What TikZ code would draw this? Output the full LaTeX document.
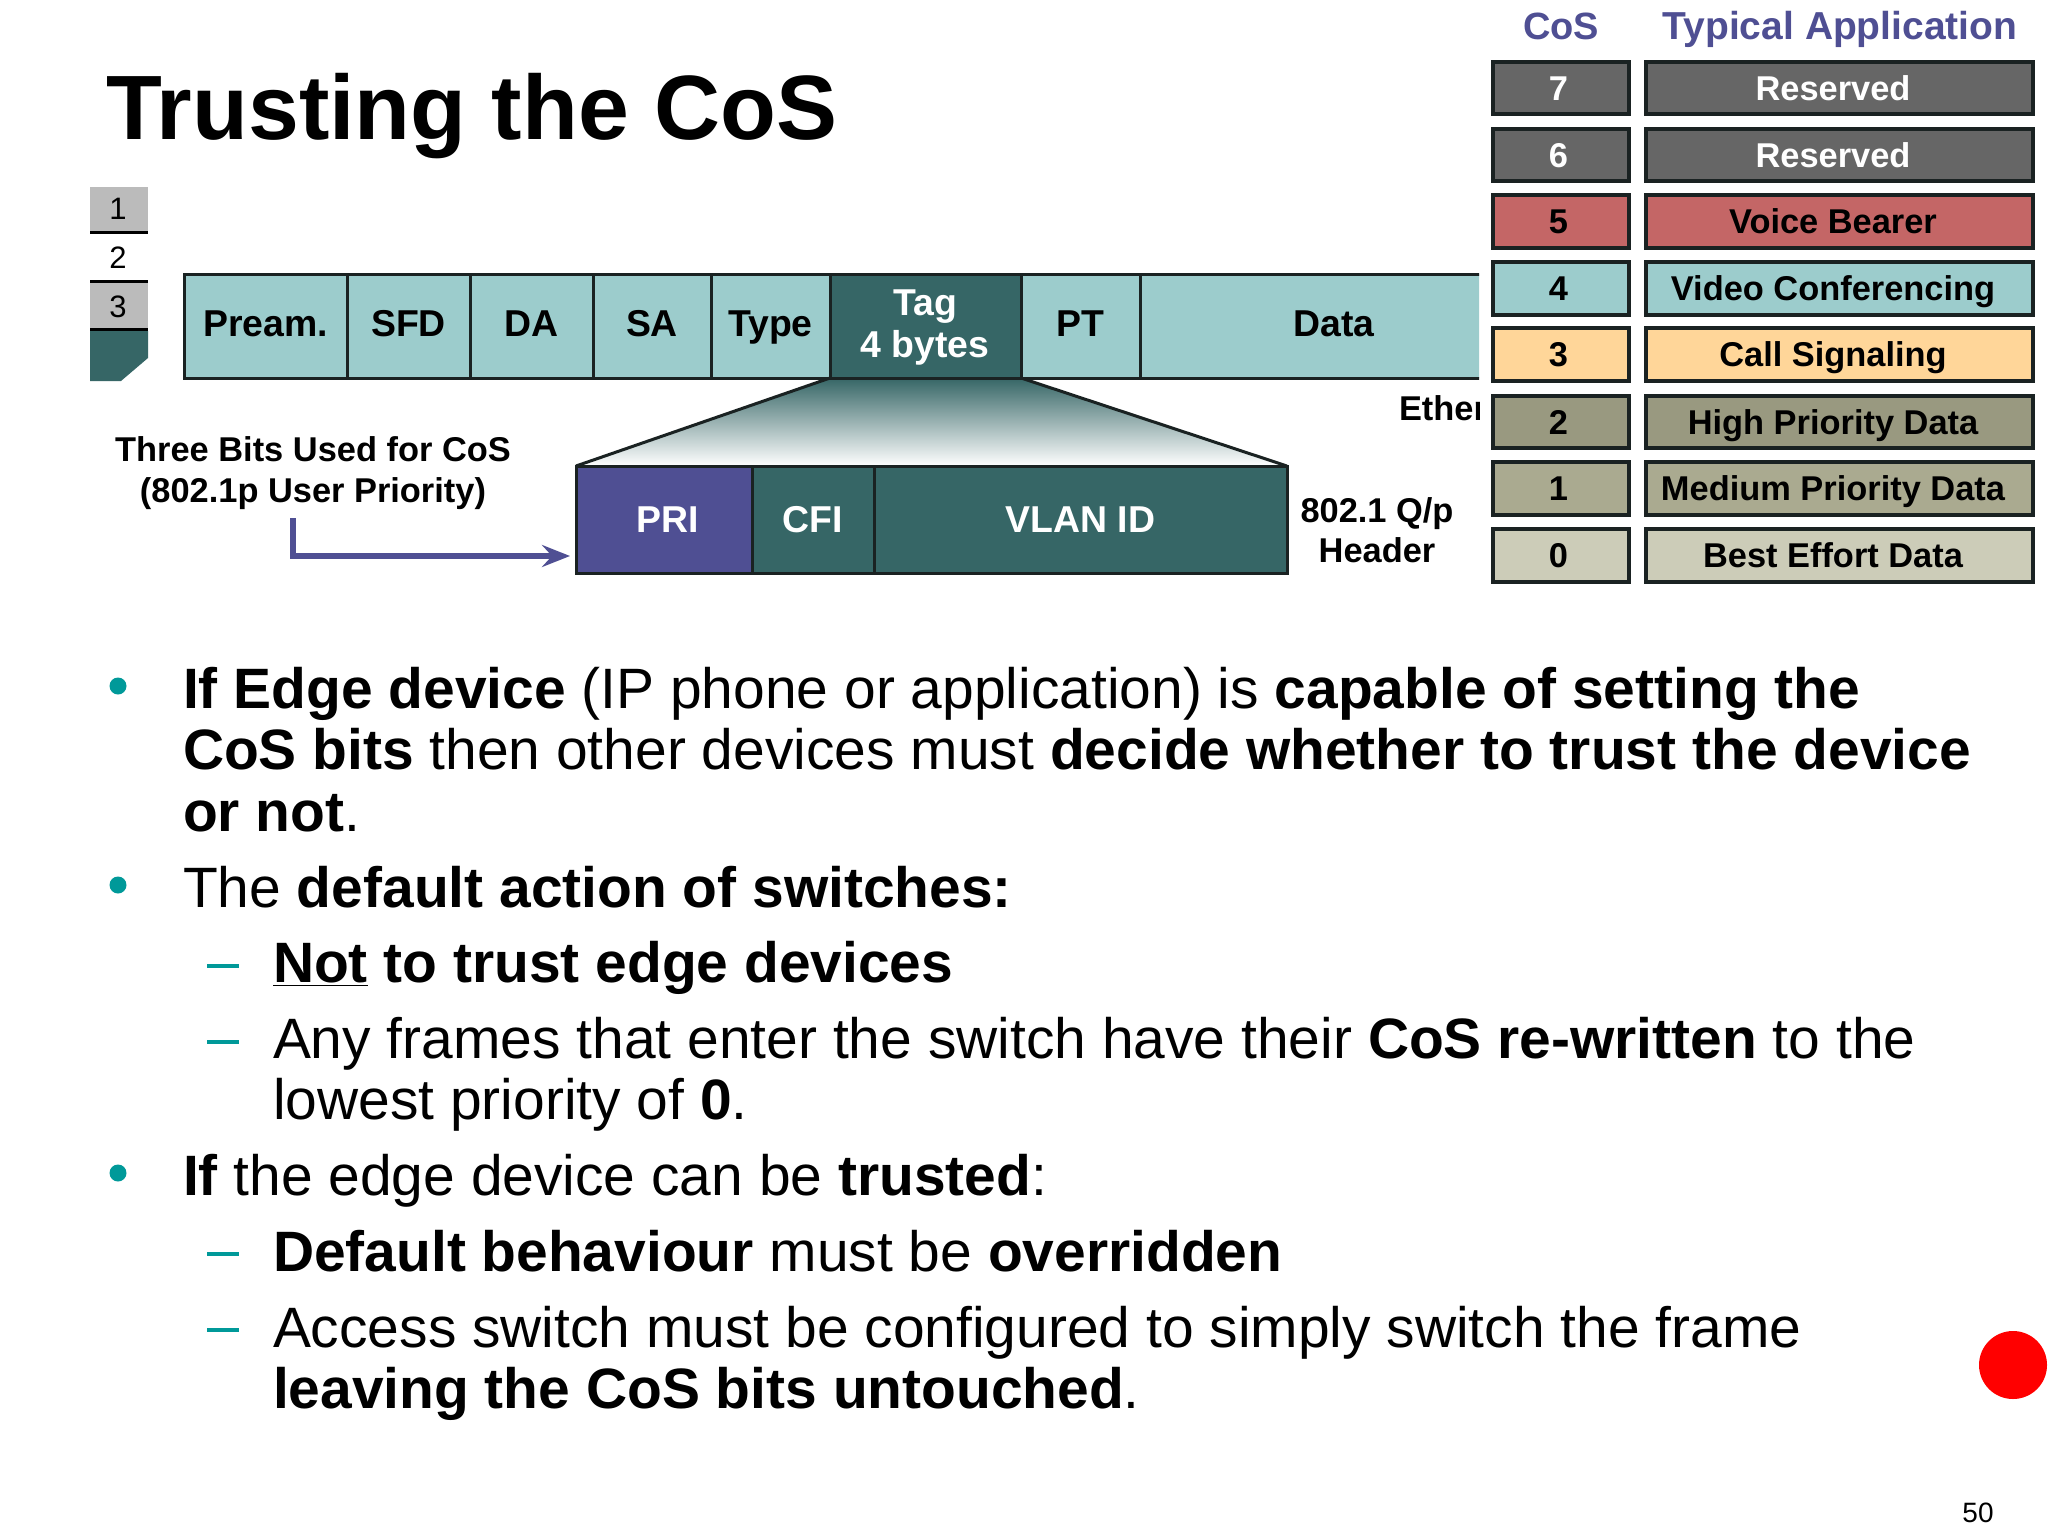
\documentclass[tikz,border=0pt]{standalone}
\usepackage{fontspec}
\setmainfont{Liberation Sans}
\usetikzlibrary{arrows.meta}
\definecolor{tealdark}{HTML}{366666}
\definecolor{teallight}{HTML}{9CCCCC}
\definecolor{purp}{HTML}{4F4F93}
\definecolor{greyrow}{HTML}{666666}
\definecolor{redrow}{HTML}{C46666}
\definecolor{orangerow}{HTML}{FFD699}
\definecolor{olive2}{HTML}{999980}
\definecolor{olive1}{HTML}{AAAA90}
\definecolor{olive0}{HTML}{CCCCB8}
\definecolor{sidegrey}{HTML}{BBBBBB}
\definecolor{bulletteal}{HTML}{009999}
\definecolor{outline}{HTML}{1A2222}
\newcommand{\fs}[1]{\fontsize{#1}{#1}\selectfont}
% name, x1, y1, x2, y2, style, text
\newcommand{\cellbox}[7]{\node[cell,#6,minimum width={(#4-#2)*0.5pt},minimum height={(#5-#3)*0.5pt}] (#1) at ({(#2+#4)/2},{(#3+#5)/2}) {#7};}
\newcommand{\bodyline}[4]{\node[bodytext] (#1) at (#2,#3) {#4};}
\newcommand{\nudged}[1]{\hbox{#1\kern 6.5pt}}
\newcommand{\nudgen}[1]{\hbox{#1\kern 2.6pt}}
\begin{document}
\begin{tikzpicture}[x=0.5pt,y=-0.5pt,
  cell/.style={draw=outline,line width=1.5pt,inner sep=0pt,outer sep=0pt,align=center,font=\fs{18.7}\bfseries},
  capup/.style={text height=13.4pt,text depth=3pt},
  capmid/.style={text height=13.4pt,text depth=0pt},
  lightc/.style={fill=teallight,text=black},
  darkc/.style={fill=tealdark,text=white},
  tablec/.style={line width=1.6pt,font=\fs{17.2}\bfseries,text height=12.3pt,text depth=0pt},
  label/.style={inner sep=0pt,outer sep=0pt,align=center,font=\fs{17.2}\bfseries},
  heading/.style={inner sep=0pt,outer sep=0pt,text=purp,text height=13.6pt,text depth=0pt},
  sidenum/.style={inner sep=0pt,outer sep=0pt,font=\fs{15.5}},
  bodytext/.style={inner sep=0pt,outer sep=0pt,anchor=base west,font=\fs{28.47}},
  bulletdot/.style={circle,fill=bulletteal,inner sep=0pt,minimum size=8.5pt},
  dashmark/.style={fill=bulletteal,inner sep=0pt,minimum width=16pt,minimum height=1.7pt},
  sideline/.style={line width=1.5pt,draw=black}
]
\useasboundingbox (0,0) rectangle (2048,1536);
\fill[white] (0,0) rectangle (2048,1536);

% title
\node[inner sep=0pt,outer sep=0pt,anchor=base west,font=\fs{45.7}\bfseries] (title) at (106,140) {Trusting the CoS};

% side strip
\fill[sidegrey] (90,187) rectangle (148,232);
\fill[sidegrey] (90,281) rectangle (148,328);
\fill[tealdark] (90,331) -- (148,331) -- (148,358) -- (121,381) -- (90,381) -- cycle;
\draw[sideline] (90,232) -- (148,232);
\draw[sideline] (90,281) -- (148,281);
\draw[sideline] (90,329) -- (148,329);
\node[sidenum] (s1) at (118,209) {1};
\node[sidenum] (s2) at (118,258) {2};
\node[sidenum] (s3) at (118,307) {3};

% trapezoid
\shade[top color=tealdark,bottom color=white] (830,378) -- (1021,378) -- (1287,466) -- (576,466) -- cycle;

% frame
\cellbox{pream}{184}{274}{347}{378}{lightc,capup}{Pream.}
\cellbox{sfd}{347}{274}{470}{378}{lightc,capup}{SFD}
\cellbox{da}{470}{274}{593}{378}{lightc,capup}{DA}
\cellbox{sa}{593}{274}{711}{378}{lightc,capup}{SA}
\cellbox{type}{711}{274}{830}{378}{lightc,capup}{Type}
\cellbox{pt}{1021}{274}{1140}{378}{lightc,capup}{PT}
\begin{scope}
  \clip (1100,250) rectangle (1479,430);
  \cellbox{data}{1140}{274}{1528}{378}{lightc,capup}{Data}
  \node[label,anchor=west] (ether) at (1399,408) {Ether};
\end{scope}
\cellbox{tag}{830}{274}{1021}{378}{darkc}{}
\node[inner sep=0pt,outer sep=0pt,anchor=base,text=white,font=\fs{18.7}\bfseries] (tagtop) at (925,315) {Tag};
\node[inner sep=0pt,outer sep=0pt,anchor=base,text=white,font=\fs{18.7}\bfseries] (tagbot) at (925,357) {4 bytes};

% header
\cellbox{pri}{576}{466}{752}{573}{fill=purp,text=white,capmid}{\hbox{\kern 4pt PRI}}
\cellbox{cfi}{752}{466}{874}{573}{darkc,capmid}{CFI}
\cellbox{vlan}{874}{466}{1287}{573}{darkc,capmid}{VLAN ID}
\draw[line width=1.5pt,draw=outline] (tag.south west) -- (pri.north west);
\draw[line width=1.5pt,draw=outline] (tag.south east) -- (vlan.north east);

\node[label] (threebits) at (313,473) {Three Bits Used for CoS\\[3pt](802.1p User Priority)};
\node[label] (hdr) at (1377,530) {802.1 Q/p\\[3pt]Header};
\coordinate (arrstart) at (293,518);
\coordinate (arrend) at (570,556);
\draw[draw=purp,line width=2.6pt,-{Stealth[length=14pt,width=11pt,inset=5pt]}] (arrstart) |- (arrend);

% CoS table
\node[heading,font=\fs{19}\bfseries] (hcos) at (1561,26) {CoS};
\node[heading,font=\fs{19.5}\bfseries] (happ) at (1840,26) {Typical Application};
\cellbox{c7}{1493}{62}{1629}{114}{tablec,fill=greyrow,text=white}{\nudgen{7}}
\cellbox{a7}{1646}{62}{2033}{114}{tablec,fill=greyrow,text=white}{\nudged{Reserved}}
\cellbox{c6}{1493}{129}{1629}{181}{tablec,fill=greyrow,text=white}{\nudgen{6}}
\cellbox{a6}{1646}{129}{2033}{181}{tablec,fill=greyrow,text=white}{\nudged{Reserved}}
\cellbox{c5}{1493}{195}{1629}{248}{tablec,fill=redrow,text=black}{\nudgen{5}}
\cellbox{a5}{1646}{195}{2033}{248}{tablec,fill=redrow,text=black}{\nudged{Voice Bearer}}
\cellbox{c4}{1493}{262}{1629}{315}{tablec,fill=teallight,text=black}{\nudgen{4}}
\cellbox{a4}{1646}{262}{2033}{315}{tablec,fill=teallight,text=black}{\nudged{Video Conferencing}}
\cellbox{c3}{1493}{328}{1629}{381}{tablec,fill=orangerow,text=black}{\nudgen{3}}
\cellbox{a3}{1646}{328}{2033}{381}{tablec,fill=orangerow,text=black}{\nudged{Call Signaling}}
\cellbox{c2}{1493}{396}{1629}{448}{tablec,fill=olive2,text=black}{\nudgen{2}}
\cellbox{a2}{1646}{396}{2033}{448}{tablec,fill=olive2,text=black}{\nudged{High Priority Data}}
\cellbox{c1}{1493}{462}{1629}{515}{tablec,fill=olive1,text=black}{\nudgen{1}}
\cellbox{a1}{1646}{462}{2033}{515}{tablec,fill=olive1,text=black}{\nudged{Medium Priority Data}}
\cellbox{c0}{1493}{529}{1629}{582}{tablec,fill=olive0,text=black}{\nudgen{0}}
\cellbox{a0}{1646}{529}{2033}{582}{tablec,fill=olive0,text=black}{\nudged{Best Effort Data}}

% bullets
\node[bulletdot] (b1) at (118,686) {};
\node[bulletdot] (b2) at (118,885) {};
\node[bulletdot] (b3) at (118,1173) {};
\node[dashmark] (d1) at (223,966) {};
\node[dashmark] (d2) at (223,1042) {};
\node[dashmark] (d3) at (223,1254) {};
\node[dashmark] (d4) at (223,1330) {};

\bodyline{l1}{183}{708}{\textbf{If Edge device} (IP phone or application) is \textbf{capable of setting the}}
\bodyline{l2}{183}{769}{\textbf{CoS bits} then other devices must \textbf{decide whether to trust the device}}
\bodyline{l3}{183}{831}{\textbf{or not}.}
\bodyline{l4}{183}{907}{The \textbf{default action of switches:}}
\bodyline{l5}{273}{982}{\textbf{\underline{Not} to trust edge devices}}
\bodyline{l6}{273}{1058}{Any frames that enter the switch have their \textbf{CoS re-written} to the}
\bodyline{l7}{273}{1119}{lowest priority of \textbf{0}.}
\bodyline{l8}{183}{1195}{\textbf{If} the edge device can be \textbf{trusted}:}
\bodyline{l9}{273}{1271}{\textbf{Default behaviour} must be \textbf{overridden}}
\bodyline{l10}{273}{1347}{Access switch must be configured to simply switch the frame}
\bodyline{l11}{273}{1408}{\textbf{leaving the CoS bits untouched}.}

% red dot and page number
\fill[red] (2013,1365) circle (34);
\node[inner sep=0pt,font=\fs{14}] (page) at (1978,1513) {50};
\end{tikzpicture}
\end{document}
